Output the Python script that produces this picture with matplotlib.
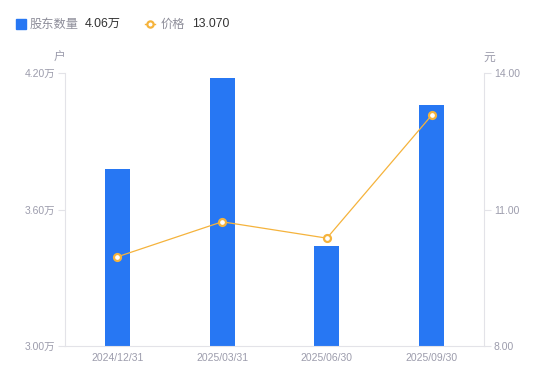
import matplotlib
matplotlib.use("Agg")
import matplotlib.pyplot as plt
from matplotlib.lines import Line2D

plt.rcParams['font.family'] = ['Liberation Sans', 'Noto Sans CJK SC', 'DejaVu Sans']

categories = ["2024/12/31", "2025/03/31", "2025/06/30", "2025/09/30"]
holders = [3.78, 4.18, 3.44, 4.06]          # 万户
price = [9.96, 10.73, 10.37, 13.07]          # 元
left_ticks = [3.00, 3.60, 4.20]
left_labels = ["3.00万", "3.60万", "4.20万"]
right_ticks = [8.00, 11.00, 14.00]
right_labels = ["8.00", "11.00", "14.00"]

bar_color = "#2777F3"
line_color = "#F5B33C"
tick_color = "#9C9CAC"
axis_color = "#E3E3E8"
cjk = ['Noto Sans CJK SC', 'DejaVu Sans']

fig = plt.figure(figsize=(5.5, 3.81), dpi=100)
ax = fig.add_axes([65/550, 35/381, 419/550, 273/381])
ax2 = ax.twinx()

x = list(range(len(categories)))
ax.bar(x, holders, width=0.24, color=bar_color, zorder=2)
ax.set_xlim(-0.5, 3.5)
ax.set_ylim(3.0, 4.2)
ax.set_yticks(left_ticks)
ax.set_yticklabels(left_labels)
ax.set_xticks(x)
ax.set_xticklabels(categories)

ax2.plot(x, price, color=line_color, lw=0.9, marker='o', ms=5,
         mfc='white', mec=line_color, mew=1.6, zorder=3)
ax2.set_ylim(8.0, 14.0)
ax2.set_yticks(right_ticks)
ax2.set_yticklabels(right_labels)

for a in (ax, ax2):
    for s in a.spines.values():
        s.set_visible(False)
ax.spines['left'].set_visible(True)
ax.spines['left'].set_color(axis_color)
ax.spines['bottom'].set_visible(True)
ax.spines['bottom'].set_color(axis_color)
ax2.spines['right'].set_visible(True)
ax2.spines['right'].set_color(axis_color)

ax.tick_params(axis='y', colors=axis_color, labelcolor=tick_color, labelsize=7.5, length=5, width=0.8, pad=2)
ax.tick_params(axis='x', length=0, labelcolor=tick_color, labelsize=7.5, pad=5)
ax2.tick_params(axis='y', colors=axis_color, labelcolor=tick_color, labelsize=7.5, length=5, width=0.8, pad=2)

fig.text(59/550, 1-57/381, "户", color=tick_color, fontsize=8.5, ha='center', va='center', family=cjk)
fig.text(489/550, 1-57/381, "元", color=tick_color, fontsize=8.5, ha='center', va='center', family=cjk)

# legend
ly = 1 - 24/381
fig.add_artist(Line2D([21/550], [ly], marker='s', ms=6.5, color=bar_color, ls='none'))
fig.text(30/550, ly, "股东数量", color="#8E8E9A", fontsize=8.8, va='center', ha='left', family=cjk)
fig.text(85/550, ly, "4.06万", color="#333333", fontsize=8.8, va='center', ha='left')
fig.add_artist(Line2D([145/550, 155/550], [ly, ly], color=line_color, lw=1))
fig.add_artist(Line2D([150/550], [ly], marker='o', ms=4.5, mfc='white', mec=line_color, mew=1.6, ls='none'))
fig.text(161/550, ly, "价格", color="#8E8E9A", fontsize=8.8, va='center', ha='left', family=cjk)
fig.text(192/550, ly, "13.070", color="#333333", fontsize=8.8, va='center', ha='left')

fig.savefig("out.png", dpi=100)
